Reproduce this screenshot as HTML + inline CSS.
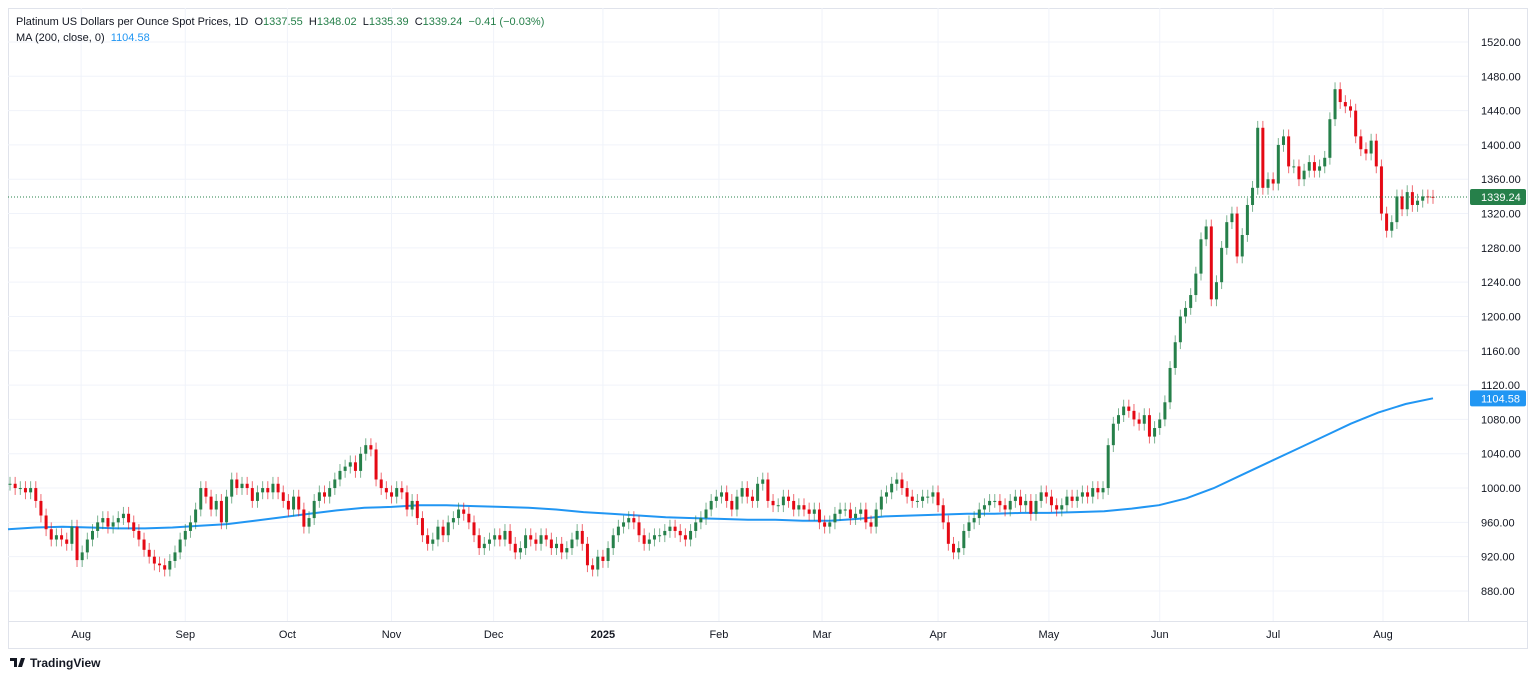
<!DOCTYPE html>
<html><head><meta charset="utf-8"><style>
body{margin:0;background:#fff;font-family:"Liberation Sans",sans-serif;}
#wrap{position:relative;width:1536px;height:679px;overflow:hidden;}
svg text{font-family:"Liberation Sans",sans-serif;}
</style></head><body><div id="wrap">
<svg id="c" width="1536" height="679"></svg>
</div>
<script>
const closes=[1005,1000,1000,995,1000,985,968,952,940,945,940,935,
955,916,925,940,950,960,965,955,960,965,970,960,950,940,928,920,912,910,905,915,
925,940,950,960,975,1000,990,975,985,960,990,1010,1000,1005,1000,985,995,1000,995,1005,
995,985,975,990,975,955,965,985,995,990,1000,1010,1020,1025,1030,1020,1040,1050,1045,1010,1000,
995,990,1000,995,975,985,965,945,935,940,955,945,960,965,975,970,960,945,930,935,940,
945,940,950,935,925,930,945,940,935,945,940,930,935,925,930,940,950,935,910,905,920,915,
930,945,955,960,965,960,945,935,940,945,945,950,955,950,945,940,950,960,965,975,985,990,
995,985,975,990,1000,990,985,1005,1010,985,980,980,990,985,975,980,975,970,975,960,
955,960,970,975,975,965,970,975,960,955,975,990,995,1005,1010,1000,990,985,985,990,990,
995,980,960,935,925,930,950,960,965,975,980,985,985,980,975,985,990,980,985,970,985,995,
990,980,975,980,990,985,990,995,990,1000,995,1000,1050,1075,1085,1095,1090,1080,1075,1085,1060,1070,
1080,1100,1140,1170,1200,1210,1225,1250,1290,1305,1220,1240,1280,1310,1320,1270,1295,1330,1350,1420,1350,1360,
1355,1400,1410,1375,1375,1360,1370,1380,1370,1375,1385,1430,1465,1450,1445,1440,1410,1395,1390,1405,1375,1320,
1300,1310,1340,1325,1345,1330,1335,1340,1339.55,1339.24];
const maValues=[952,954,955,954,953,953,954,956,958,962,966,970,974,977,978,980,980,979,978,977,975,972,970,968,966,965,964,963,963,962,962,964,967,968,969,970,970,971,971,972,973,976,980,988,1000,1015,1030,1045,1060,1075,1088,1098,1104.58];
const yTicks=[880,920,960,1000,1040,1080,1120,1160,1200,1240,1280,1320,1360,1400,1440,1480,1520];
const xLabels=["Aug","Sep","Oct","Nov","Dec","2025","Feb","Mar","Apr","May","Jun","Jul","Aug"];
const xLabelIdx=[13.8,34,53.8,74,93.8,115,137.5,157.5,180,201.5,223,245,266.3];
const lastPrice=1339.24, maLast=1104.58;
const NS="http://www.w3.org/2000/svg",svg=document.getElementById('c');
const yS=p=>42+(1520-p)*0.8578;
const x0=10,x1=1433,xS=i=>x0+i*(x1-x0)/(closes.length-1);
function el(t,a,p){const e=document.createElementNS(NS,t);for(const k in a)e.setAttribute(k,a[k]);(p||svg).appendChild(e);return e;}
function tx(s,a){const e=el('text',a);e.textContent=s;return e;}
el('rect',{x:0,y:0,width:1536,height:679,fill:'#fff'});
el('rect',{x:8.5,y:8.5,width:1519,height:640,fill:'none',stroke:'#e0e3eb'});
el('line',{x1:1468.5,y1:8,x2:1468.5,y2:621,stroke:'#e0e3eb'});
el('line',{x1:8,y1:621.5,x2:1528,y2:621.5,stroke:'#e0e3eb'});
yTicks.forEach(v=>{const y=yS(v);
 const g=el('line',{x1:8,y1:y,x2:1468,y2:y,stroke:'#f0f3fa'});
 
 const t=tx(v.toFixed(2),{x:1481,y:y+4,'font-size':11,fill:'#131722'});
 });
xLabels.forEach((l,k)=>{const x=xS(xLabelIdx[k]);
 const g=el('line',{x1:x,y1:8,x2:x,y2:621,stroke:'#f0f3fa'});
 
 const t=tx(l,{x:x,y:638,'font-size':11,fill:'#131722','text-anchor':'middle','font-weight':l=='2025'?'bold':'normal'});
 });
let d='';maValues.forEach((v,i)=>{const x=8+i*(x1-8)/(maValues.length-1);d+=(i?'L':'M')+x.toFixed(1)+' '+yS(v).toFixed(1);});
const ma=el('path',{d:d,fill:'none',stroke:'#2196f3','stroke-width':2});

closes.forEach((c,i)=>{const o=i?closes[i-1]:c;const up=c>=o;const col=up?'#26804a':'#e50914';const x=xS(i);
 const hi=Math.max(o,c)+8,lo=Math.min(o,c)-8;
 const w=el('line',{x1:x,y1:yS(hi),x2:x,y2:yS(lo),stroke:col,'stroke-opacity':0.6});
 
 const top=yS(Math.max(o,c)),h=Math.max(1,yS(Math.min(o,c))-top);
 const b=el('rect',{x:x-1.5,y:top,width:3,height:h,fill:col});
 });
el('line',{x1:8,y1:yS(lastPrice),x2:1468,y2:yS(lastPrice),stroke:'#26804a','stroke-dasharray':'1,2'});
const lp=el('rect',{x:1470,y:yS(lastPrice)-8,width:56,height:16,fill:'#26804a',rx:2});

tx(lastPrice.toFixed(2),{x:1481,y:yS(lastPrice)+4,'font-size':11,fill:'#fff'});
const mb=el('rect',{x:1470,y:yS(maLast)-8,width:56,height:16,fill:'#2196f3',rx:2});

tx(maLast.toFixed(2),{x:1481,y:yS(maLast)+4,'font-size':11,fill:'#fff'});
const t1=el('text',{x:16,y:25,'font-size':11,fill:'#131722'});

t1.innerHTML='Platinum US Dollars per Ounce Spot Prices, 1D  <tspan fill="#131722">O</tspan><tspan fill="#26804a">1337.55</tspan>  H<tspan fill="#26804a">1348.02</tspan>  L<tspan fill="#26804a">1335.39</tspan>  C<tspan fill="#26804a">1339.24</tspan>  <tspan fill="#26804a">−0.41 (−0.03%)</tspan>';
t1.style.whiteSpace='pre';
const t2=el('text',{x:16,y:41,'font-size':11,fill:'#131722'});

t2.innerHTML='MA (200, close, 0)  <tspan fill="#2196f3">1104.58</tspan>';t2.style.whiteSpace='pre';
const lg=tx('TradingView',{x:30,y:667,'font-size':12,fill:'#131722','font-weight':'bold'});

el('path',{d:'M10 658h7v9h-3v-6h-4zM18 667l3-9h4l-3 9z',fill:'#131722'});
</script></body></html>
